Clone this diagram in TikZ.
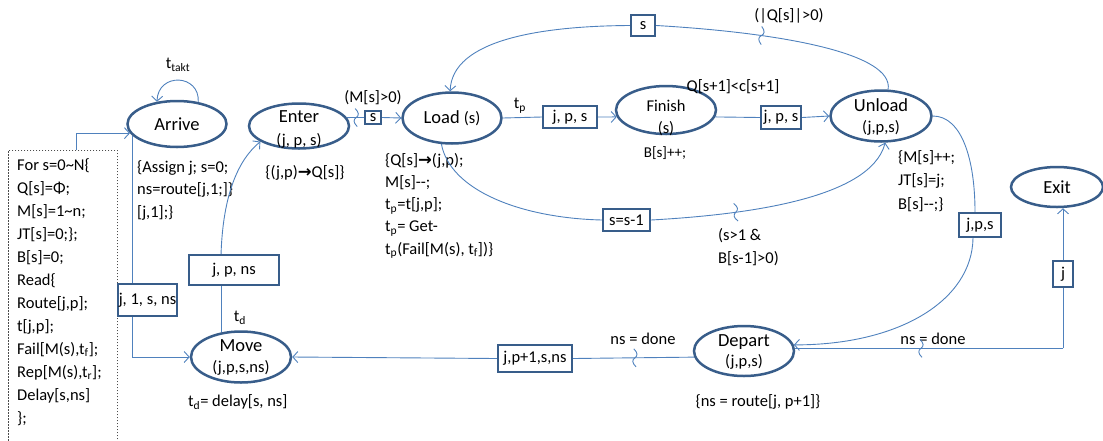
\documentclass[tikz,border=0pt]{standalone}
\usepackage{fontspec}
\setmainfont{Carlito}
\newfontfamily\symfont{DejaVu Sans}
\usetikzlibrary{shapes.geometric,arrows.meta,decorations.markings}
\definecolor{bordc}{HTML}{385D8A}
\definecolor{edgec}{HTML}{4F81BD}
\newcommand{\lowidx}[1]{\textsubscript{#1}}
\newcommand{\subfont}{\fontsize{16.5}{20}\selectfont}
\begin{document}
\begin{tikzpicture}[x=1pt,y=-1pt,
  font=\fontsize{16.5}{22.5}\selectfont,
  line/.style={draw=edgec, line width=0.9pt},
  arr/.style={line, -{Straight Barb[length=5pt,width=11pt]}},
  state/.style={ellipse, draw=bordc, line width=2.5pt, inner sep=0pt, fill=white},
  token/.style={rectangle, draw=bordc, line width=2.4pt, inner sep=0pt, fill=white},
  title/.style={font=\fontsize{18.5}{22}\selectfont, align=center, inner sep=0pt},
  note/.style={inner sep=0pt, align=left},
  cond/.style={postaction={decorate, decoration={markings, mark=at position #1 with {
    \draw[-, draw=edgec, line width=0.9pt] (-1pt,9pt) .. controls (3pt,5pt) and (3pt,2pt) .. (0pt,0pt)
      .. controls (-3pt,-2pt) and (-3pt,-5pt) .. (1pt,-9pt);}}}}]
\useasboundingbox (0,0) rectangle (1103,440);

% initialisation block
\node[draw=black!70, dash pattern=on 1.3pt off 1.7pt, line width=0.8pt, minimum width=109pt,
  minimum height=300pt, inner sep=0pt, anchor=north west] (init) at (8,150) {};
\node[note, anchor=north west, font=\fontsize{16.5}{23}\selectfont] (initcode) at (17,158)
  {For s=0\textasciitilde N\{\\Q[s]=Φ;\\M[s]=1\textasciitilde n;\\JT[s]=0;\};\\B[s]=0;\\Read\{\\
   Route[j,p];\\t[j,p];\\Fail[M(s),t\lowidx{f}];\\Rep[M(s),t\lowidx{r}];\\Delay[s,ns]\\\};};

% events
\node[state, minimum width=99pt, minimum height=46pt, label={[title]center:{Arrive}}] (arrive) at (177,124) {};
\node[state, minimum width=100pt, minimum height=45pt,
  label={[title, yshift=-3pt]center:{Enter\\[1pt]{\subfont (j, p, s)}}}] (enter) at (299,126) {};
\node[state, minimum width=99pt, minimum height=51pt,
  label={[title]center:{Load {\subfont (s)}}}] (load) at (452,118) {};
\node[state, minimum width=100pt, minimum height=48pt,
  label={[title, font=\fontsize{16.5}{22}\selectfont, yshift=-8pt]center:{Finish\\(s)}}] (finish) at (666,110) {};
\node[state, minimum width=101pt, minimum height=51pt,
  label={[title, yshift=-1pt]center:{Unload\\[-1pt]{\subfont (j,p,s)}}}] (unload) at (881,116) {};
\node[state, minimum width=92pt, minimum height=40pt, label={[title]center:{Exit}}] (exit) at (1057,187) {};
\node[state, minimum width=100pt, minimum height=50pt,
  label={[title, yshift=-1pt]center:{Depart\\[-2pt]{\subfont (j,p,s)}}}] (depart) at (744,351) {};
\node[state, minimum width=100pt, minimum height=51pt,
  label={[title]center:{Move\\[-1pt]{\subfont (j,p,s,ns)}}}] (move) at (241,357) {};

% attribute boxes
\node[token, minimum width=16pt, minimum height=13pt] (sbox1) at (373,117.5) {s};
\node[token, minimum width=24pt, minimum height=21pt] (sbox2) at (643,25.5) {s};
\node[token, minimum width=54pt, minimum height=22pt] (jps1) at (570,117) {j, p, s};
\node[token, minimum width=40pt, minimum height=23pt] (jps2) at (781,117.5) {j, p, s};
\node[token, minimum width=47pt, minimum height=22pt] (ss1) at (626.5,220) {s=s-1};
\node[token, minimum width=42pt, minimum height=24pt] (jps3) at (980,225) {j,p,s};
\node[token, minimum width=20pt, minimum height=26pt] (jbox) at (1063,274) {j};
\node[token, minimum width=74pt, minimum height=27pt] (jpp) at (535,358.5) {j,p+1,s,ns};
\node[token, minimum width=90pt, minimum height=30pt] (jpns) at (234,270) {j, p, ns};
\node[token, minimum width=59pt, minimum height=32pt] (j1) at (147.5,300) {j, 1, s, ns};

% event annotations
\node[note, anchor=north west] (arrivenote) at (137,160) {\{Assign j; s=0;\\ns=route[j,1;]\}\\{}[j,1];\}};
\node[note] (enternote) at (305,173) {\{(j,p){\symfont\bfseries →}Q[s]\}};
\node[note, anchor=north west, font=\fontsize{16.5}{22.2}\selectfont] (loadnote) at (385,153)
  {\{Q[s]{\symfont\bfseries →}(j,p);\\M[s]-{}-;\\t\lowidx{p}=t[j,p];\\t\lowidx{p}= Get-\\t\lowidx{p}(Fail[M(s), t\lowidx{f}])\}};
\node[note, font=\fontsize{15}{18}\selectfont] (finishnote) at (665,153) {B[s]++;};
\node[note, anchor=north west, font=\fontsize{16.5}{23.5}\selectfont] (unloadnote) at (898,150)
  {\{M[s]++;\\JT[s]=j;\\B[s]-{}-;\}};
\node[note] (departnote) at (758,402) {\{ns = route[j, p+1]\}};
\node[note, anchor=west] (movenote) at (188,402) {t\lowidx{d}= delay[s, ns]};

% edge labels
\node[note] (taktlabel) at (178,65) {t\lowidx{takt}};
\node[note] (tdlabel) at (240,318) {t\lowidx{d}};
\node[note] (tplabel) at (520,106) {t\lowidx{p}};
\node[note] (mcond) at (373,98) {(M[s]>0)};
\node[note] (qcond) at (789,16) {(|Q[s]|>0)};
\node[note] (capcond) at (733,87) {Q[s+1]<c[s+1]};
\node[note, anchor=north west, font=\fontsize{16.5}{23}\selectfont] (bcond) at (718,228) {(s>1 \&\\B[s-1]>0)};
\node[note] (nsdone1) at (643,339) {ns = done};
\node[note] (nsdone2) at (933,339) {ns = done};

% edges
\draw[arr] ([xshift=13.5pt]init.north) |- (arrive.191);
\draw[arr] (arrive.46) .. controls (200,74) and (158,72) .. (arrive.132);
\draw[line] (arrive.195) -- (arrive.195 |- j1.north);
\draw[arr] (arrive.195 |- j1.south) |- (move.west);
\draw[line] (move.129) -- (move.129 |- jpns.south);
\draw[arr] (move.129 |- jpns.north) .. controls (223,195) and (238,160) .. (enter.202);
\draw[line, cond=0.55] (enter.10) -- (sbox1.west);
\draw[arr] (sbox1.east) -- (load.west);
\draw[line] (load.east) -- (jps1.west);
\draw[arr] (jps1.east) -- (finish.188);
\draw[line] (finish.352) -- (jps2.west);
\draw[arr] (jps2.east) -- (unload.west);
\draw[line, cond=0.58] (unload.75) .. controls (894,54) and (785,33) .. (sbox2.east);
\draw[arr] (sbox2.west) .. controls (540,26) and (452,40) .. (load.94);
\draw[line] (load.248) .. controls (450,190) and (520,218) .. (ss1.west);
\draw[arr, cond=0.33] (ss1.east) .. controls (740,215) and (870,200) .. (unload.279);
\draw[line] (unload.east) .. controls (962,116) and (975,160) .. ([xshift=-5pt]jps3.north);
\draw[arr] ([xshift=-7pt]jps3.south) .. controls (972,300) and (900,345) .. (depart.7);
\draw[line, cond=0.49] (depart.187) -- (jpp.east);
\draw[arr] (jpp.west) -- (move.east);
\coordinate (turn) at (jbox.south |- depart.3);
\draw[line, cond=0.47] (depart.3) -- (turn);
\draw[line] (turn) -- (jbox.south);
\draw[arr] (jbox.north) -- (jbox.north |- exit.south);
\end{tikzpicture}
\end{document}
